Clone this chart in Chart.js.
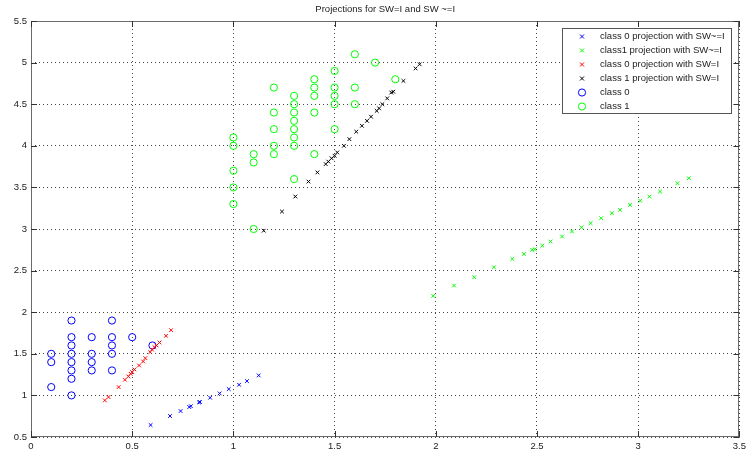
<!DOCTYPE html>
<html>
<head>
<meta charset="utf-8">
<script src="https://cdn.jsdelivr.net/npm/chart.js@4.4.0/dist/chart.umd.min.js"></script>
<style>
  html, body { margin: 0; padding: 0; background: #fff; }
  #wrap { width: 750px; height: 456px; }
</style>
</head>
<body>
<div id="wrap"><canvas id="grafico"></canvas></div>
<script>
const chartTitle = 'Projections for SW=I and SW ~=I';
const xTicks = [0, 0.5, 1, 1.5, 2, 2.5, 3, 3.5];
const yTicks = [0.5, 1, 1.5, 2, 2.5, 3, 3.5, 4, 4.5, 5, 5.5];

const seriesLabels = [
    'class 0 projection with SW~=I',
    'class1 projection with SW~=I',
    'class 0 projection with SW=I',
    'class 1 projection with SW=I',
    'class 0',
    'class 1'
];

// class 0 projetado com SW~=I (azul, x)
const proj0NotIX = [0.591, 0.687, 0.739, 0.782, 0.79, 0.83, 0.835, 0.885, 0.932, 0.977, 1.028, 1.067, 1.125];
const proj0NotIY = [0.644, 0.752, 0.812, 0.86, 0.87, 0.916, 0.92, 0.972, 1.024, 1.076, 1.128, 1.172, 1.24];

// class 1 projetado com SW~=I (verde, x)
const proj1NotIX = [1.987, 2.09, 2.19, 2.287, 2.378, 2.435, 2.476, 2.489, 2.526, 2.567, 2.624, 2.673, 2.72, 2.765, 2.817, 2.87, 2.91, 2.96, 3.01, 3.055, 3.108, 3.194, 3.25];
const proj1NotIY = [2.196, 2.32, 2.42, 2.54, 2.64, 2.70, 2.75, 2.756, 2.80, 2.85, 2.91, 2.97, 3.02, 3.07, 3.13, 3.19, 3.23, 3.29, 3.34, 3.39, 3.45, 3.55, 3.61];

// class 0 projetado com SW=I (vermelho, x)
const proj0IX = [0.365, 0.383, 0.433, 0.464, 0.481, 0.492, 0.5, 0.511, 0.534, 0.554, 0.565, 0.589, 0.598, 0.61, 0.62, 0.635, 0.667, 0.692];
const proj0IY = [0.94, 0.98, 1.1, 1.188, 1.228, 1.26, 1.28, 1.312, 1.36, 1.408, 1.448, 1.52, 1.55, 1.58, 1.6, 1.636, 1.716, 1.784];

// class 1 projetado com SW=I (preto, x)
const proj1IX = [1.15, 1.24, 1.306, 1.371, 1.415, 1.456, 1.469, 1.485, 1.5, 1.513, 1.546, 1.573, 1.607, 1.635, 1.66, 1.68, 1.708, 1.72, 1.736, 1.76, 1.78, 1.79, 1.84, 1.9, 1.92];
const proj1IY = [2.98, 3.21, 3.39, 3.57, 3.68, 3.78, 3.81, 3.85, 3.88, 3.92, 4.0, 4.08, 4.17, 4.24, 4.30, 4.35, 4.42, 4.45, 4.5, 4.57, 4.64, 4.65, 4.78, 4.93, 4.98];

// pontos originais class 0 (azul, o)
const class0X = [0.1, 0.1, 0.1, 0.2, 0.2, 0.2, 0.2, 0.2, 0.2, 0.2, 0.2, 0.3, 0.3, 0.3, 0.3, 0.4, 0.4, 0.4, 0.4, 0.4, 0.5, 0.6];
const class0Y = [1.5, 1.4, 1.1, 1.9, 1.7, 1.6, 1.5, 1.4, 1.3, 1.2, 1.0, 1.7, 1.5, 1.4, 1.3, 1.9, 1.7, 1.6, 1.5, 1.3, 1.7, 1.6];

// pontos originais class 1 (verde, o)
const class1X = [1.6, 1.7, 1.5, 1.4, 1.2, 1.4, 1.5, 1.6, 1.8, 1.3, 1.4, 1.5, 1.3, 1.5, 1.6, 1.2, 1.3, 1.4, 1.3, 1.2, 1.3, 1.5, 1.3, 1.0, 1.0, 1.2, 1.3, 1.1, 1.2, 1.4, 1.1, 1.0, 1.3, 1.0, 1.0, 1.1];
const class1Y = [5.1, 5.0, 4.9, 4.8, 4.7, 4.7, 4.7, 4.7, 4.8, 4.6, 4.6, 4.6, 4.5, 4.5, 4.5, 4.4, 4.4, 4.4, 4.3, 4.2, 4.2, 4.2, 4.1, 4.1, 4.0, 4.0, 4.0, 3.9, 3.9, 3.9, 3.8, 3.7, 3.6, 3.5, 3.3, 3.0];

function pares(xs, ys) {
    return xs.map((x, i) => ({ x: x, y: ys[i] }));
}

function serie(label, xs, ys, cor, estilo) {
    const circulo = estilo === 'circle';
    return {
        label: label,
        data: pares(xs, ys),
        borderColor: cor,
        backgroundColor: 'rgba(0,0,0,0)',
        pointStyle: estilo,
        pointRadius: circulo ? 3.6 : 2.6,
        pointBorderWidth: 1,
        pointHoverRadius: circulo ? 3.6 : 2.6,
        showLine: false
    };
}

const FONTE = '"Liberation Sans", Arial, sans-serif';

// caixa dos eixos, marcas internas, título e legenda no estilo MATLAB
const estiloMatlab = {
    id: 'estiloMatlab',
    afterDatasetsDraw(chart) {
        const ctx = chart.ctx;
        const a = chart.chartArea;
        const sx = chart.scales.x, sy = chart.scales.y;
        ctx.save();
        ctx.strokeStyle = '#6a6a6a';
        ctx.lineWidth = 1;
        ctx.strokeRect(Math.round(a.left) + 0.5, Math.round(a.top) + 0.5,
            Math.round(a.right - a.left) - 1, Math.round(a.bottom - a.top) - 1);
        ctx.strokeStyle = '#333';
        ctx.beginPath();
        xTicks.forEach(v => {
            const px = Math.round(sx.getPixelForValue(v)) + 0.5;
            ctx.moveTo(px, a.bottom); ctx.lineTo(px, a.bottom - 6);
            ctx.moveTo(px, a.top); ctx.lineTo(px, a.top + 6);
        });
        yTicks.forEach(v => {
            const py = Math.round(sy.getPixelForValue(v)) + 0.5;
            ctx.moveTo(a.left, py); ctx.lineTo(a.left + 6, py);
            ctx.moveTo(a.right, py); ctx.lineTo(a.right - 6, py);
        });
        ctx.stroke();

        // título
        ctx.fillStyle = '#222';
        ctx.font = '9.5px ' + FONTE;
        ctx.textAlign = 'center';
        ctx.textBaseline = 'middle';
        ctx.fillText(chartTitle, (a.left + a.right) / 2, 9);

        // legenda
        const lx = 562, ly = 28, lw = 169, lh = 85;
        ctx.fillStyle = '#fff';
        ctx.fillRect(lx, ly, lw, lh);
        ctx.strokeStyle = '#555';
        ctx.strokeRect(lx + 0.5, ly + 0.5, lw, lh);
        ctx.textAlign = 'left';
        chart.data.datasets.forEach((ds, i) => {
            const cy = ly + 8.5 + i * 14;
            const cx = 582;
            ctx.strokeStyle = ds.borderColor;
            ctx.beginPath();
            if (ds.pointStyle === 'circle') {
                ctx.arc(cx, cy, 3.6, 0, Math.PI * 2);
            } else {
                const r = 2;
                ctx.moveTo(cx - r, cy - r); ctx.lineTo(cx + r, cy + r);
                ctx.moveTo(cx - r, cy + r); ctx.lineTo(cx + r, cy - r);
            }
            ctx.stroke();
            ctx.fillStyle = '#222';
            ctx.fillText(ds.label, 600, cy);
        });
        ctx.restore();
    }
};

document.addEventListener('DOMContentLoaded', function() {
    const ctx = document.getElementById('grafico').getContext('2d');
    new Chart(ctx, {
        type: 'scatter',
        data: {
            datasets: [
                serie(seriesLabels[0], proj0NotIX, proj0NotIY, '#0000ff', 'crossRot'),
                serie(seriesLabels[1], proj1NotIX, proj1NotIY, '#00ff00', 'crossRot'),
                serie(seriesLabels[2], proj0IX, proj0IY, '#ff0000', 'crossRot'),
                serie(seriesLabels[3], proj1IX, proj1IY, '#000000', 'crossRot'),
                serie(seriesLabels[4], class0X, class0Y, '#0000ff', 'circle'),
                serie(seriesLabels[5], class1X, class1Y, '#00ff00', 'circle')
            ]
        },
        options: {
            responsive: true,
            maintainAspectRatio: false,
            animation: false,
            events: [],
            layout: { padding: { top: 21, right: 5, left: 0, bottom: 0 } },
            plugins: {
                legend: { display: false },
                title: { display: false },
                tooltip: { enabled: false }
            },
            scales: {
                x: {
                    type: 'linear',
                    min: 0, max: 3.5,
                    afterBuildTicks: s => { s.ticks = xTicks.map(v => ({ value: v })); },
                    afterFit: s => { s.height = 19; },
                    grid: { color: '#444', lineWidth: 1, drawTicks: false },
                    border: { display: false, dash: [1, 3] },
                    ticks: {
                        padding: 4, maxRotation: 0, autoSkip: false,
                        color: '#222', font: { family: FONTE, size: 9.5 },
                        callback: v => String(v)
                    }
                },
                y: {
                    type: 'linear',
                    min: 0.5, max: 5.5,
                    afterBuildTicks: s => { s.ticks = yTicks.map(v => ({ value: v })); },
                    afterFit: s => { s.width = 31; },
                    grid: { color: '#444', lineWidth: 1, drawTicks: false },
                    border: { display: false, dash: [1, 3] },
                    ticks: {
                        padding: 4, autoSkip: false,
                        color: '#222', font: { family: FONTE, size: 9.5 },
                        callback: v => String(v)
                    }
                }
            }
        },
        plugins: [estiloMatlab]
    });
});
</script>
</body>
</html>
